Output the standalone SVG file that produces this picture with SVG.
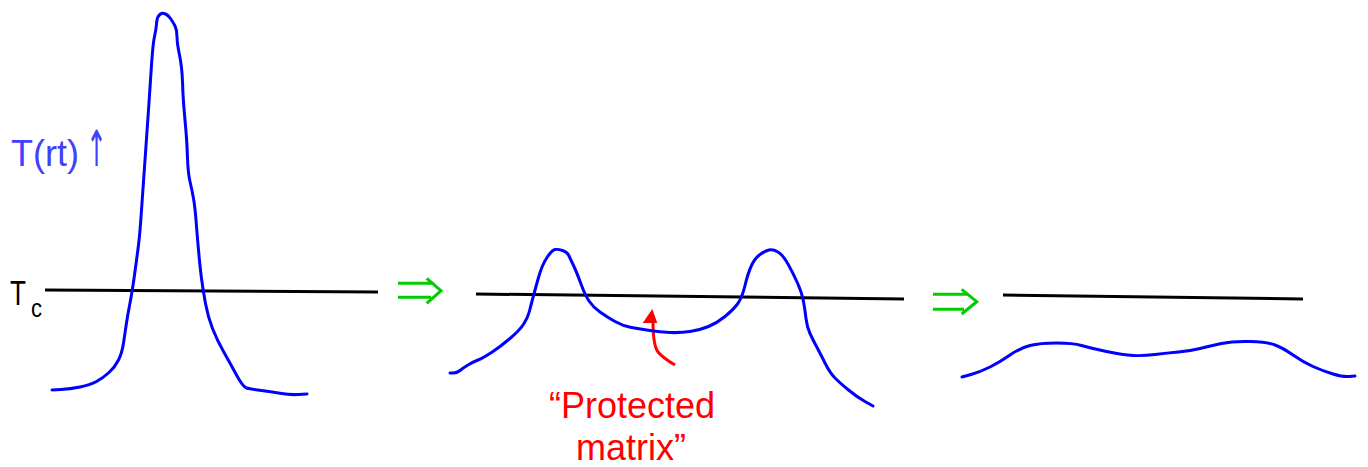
<svg xmlns="http://www.w3.org/2000/svg" width="1368" height="467" viewBox="0 0 1368 467">
<style>
.curve{fill:none;stroke:#0000ff;stroke-width:3;stroke-linejoin:round;stroke-linecap:round}
.tc{fill:none;stroke:#000;stroke-width:3}
.arr{fill:none;stroke:#00cc00;stroke-width:3;stroke-linecap:butt}
.lbl{font-family:"Liberation Sans","DejaVu Sans",sans-serif}
</style>
<rect width="1368" height="467" fill="#fff"/>
<g id="labels">
<text class="lbl" x="11" y="166" font-size="36" fill="#4040ff">T(rt)<tspan font-family="DejaVu Sans, sans-serif" font-size="50" x="86" textLength="21" lengthAdjust="spacingAndGlyphs">↑</tspan></text>
<text class="lbl" x="10" y="305" font-size="35" fill="#000" textLength="16" lengthAdjust="spacingAndGlyphs">T</text>
<text class="lbl" x="31" y="317" font-size="25" fill="#000" textLength="11" lengthAdjust="spacingAndGlyphs">c</text>
</g>
<g id="connectors">
<path class="tc" d="M45,290 L378,292"/>
<path class="tc" d="M476,294 L904,299"/>
<path class="tc" d="M1003,295 L1303,299"/>
<g id="arrow1">
<path class="arr" d="M398,283.3 H434 M398,297.3 H431 M426.7,278.3 L441,290.7 L426.7,303.3"/>
</g>
<g id="arrow2">
<path class="arr" d="M933,294.3 H967 M933,309.3 H964 M961.7,289.3 L976.7,301.7 L961.7,314"/>
</g>
<g id="red-arrow">
<path d="M675,365 Q663,358 658,352 Q653,345 653,322" fill="none" stroke="#ff0000" stroke-width="3" stroke-linejoin="round"/>
<polygon points="652.3,309 642.7,323 657.3,323" fill="#ff0000"/>
</g>
</g>
<g id="peak1">
<path class="curve" d="M52,390 L61,389.5 Q70,389 80,387 Q90,385 96.5,381.5 Q103,378 109,372.5 Q115,367 118.5,360 Q122,353 123.5,343 Q125,333 126.5,323 Q128,313 130,303 Q132,293 134.5,275 Q137,257 138.5,245 Q140,233 141.5,210 Q143,187 145,160 Q147,133 148.5,110 Q150,87 151.5,65 Q153,43 154.5,36.5 Q156,30 156.5,24 Q157,18 158.5,16 Q160,14 161.5,13.5 Q163,13 165.5,14 Q168,15 170.5,18.5 Q173,22 175,26 Q177,30 177,36.5 Q177,43 179.5,55 Q182,67 182.5,82 Q183,97 184,108.5 Q185,120 186,131.5 Q187,143 187.5,158 Q188,173 190,181.5 Q192,190 193.5,198.5 Q195,207 196,220 Q197,233 198.5,250 Q200,267 201.5,278.5 Q203,290 205.5,303.5 Q208,317 212.5,328.5 Q217,340 223.5,351.5 Q230,363 236.5,375 Q243,387 246.5,388 Q250,389 261.5,390.5 Q273,392 281.5,393.5 Q290,395 298.5,394.5 L307,394"/>
</g>
<g id="peak2">
<path class="curve" d="M450,373 L453.5,373 Q457,373 460,370.5 Q463,368 468,365 Q473,362 478,360 Q483,358 491.5,352.5 Q500,347 510,338.5 Q520,330 524,323.5 Q528,317 529.5,311 Q531,305 533,297.5 Q535,290 538.5,277.5 Q542,265 547,257.5 Q552,250 555,249.5 Q558,249 562.5,250.5 Q567,252 568.5,255 Q570,258 573.5,265.5 Q577,273 581,284 Q585,295 589,301 Q593,307 600,312 Q607,317 615,321.5 Q623,326 631.5,327.5 Q640,329 650,330.5 Q660,332 670,332.5 Q680,333 690,331.5 Q700,330 708.5,326.5 Q717,323 725,316.5 Q733,310 737.5,304 Q742,298 745,285.5 Q748,273 751.5,265.5 Q755,258 760,254.5 Q765,251 769,250 Q773,249 778,252 Q783,255 788,264 Q793,273 797.5,283 Q802,293 803.5,301.5 Q805,310 806,318.5 Q807,327 810,333.5 Q813,340 816.5,346.5 Q820,353 825,363 Q830,373 835,378 Q840,383 848.5,390 Q857,397 865,401.5 L873,406"/>
</g>
<g id="flat3">
<path class="curve" d="M962,377 L971,374.5 Q980,372 990,367 Q1000,362 1010,355 Q1020,348 1030,345.5 Q1040,343 1056.5,343 Q1073,343 1081.5,345.5 Q1090,348 1106.5,351.5 Q1123,355 1133,355.5 Q1143,356 1155,354.5 Q1167,353 1178.5,352 Q1190,351 1200,348.5 Q1210,346 1221.5,343.5 Q1233,341 1250,341.5 Q1267,342 1275,345 Q1283,348 1293,355 Q1303,362 1313,366.5 Q1323,371 1333,374 Q1343,377 1349,376.5 L1355,376"/>
</g>
<g id="protected-label">
<text class="lbl" font-size="36" fill="#ff0000" text-anchor="middle"><tspan x="632" y="418">“Protected</tspan><tspan x="631" y="460">matrix”</tspan></text>
</g>
</svg>
